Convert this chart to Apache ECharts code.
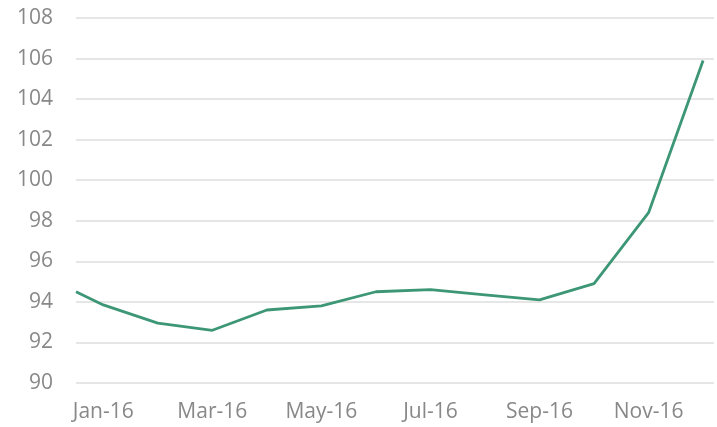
<!DOCTYPE html>
<html>
<head>
<meta charset="utf-8">
<script src="https://cdn.jsdelivr.net/npm/echarts@6/dist/echarts.min.js"></script>
<style>
html,body{margin:0;padding:0;background:#fff;}
#c{width:717px;height:427px;}
</style>
</head>
<body>
<div id="c"></div>
<script>
// x positions are in half-month steps: 0 = mid Dec-15, 1 = Jan-16, 3 = Feb-16, ... 23 = Dec-16
var positions = [0, 1, 3, 5, 7, 9, 11, 13, 15, 17, 19, 21, 23];
var months = ["Dec-15", "Jan-16", "Feb-16", "Mar-16", "Apr-16", "May-16", "Jun-16",
              "Jul-16", "Aug-16", "Sep-16", "Oct-16", "Nov-16", "Dec-16"];
var values = [94.5, 93.85, 92.95, 92.6, 93.6, 93.8, 94.5, 94.6, 94.35, 94.1, 94.9, 98.4, 105.9];
var tickLabels = ["Jan-16", "Mar-16", "May-16", "Jul-16", "Sep-16", "Nov-16"];
var yMin = 90, yMax = 108, yStep = 2;

var labelAt = {};
positions.forEach(function (p, i) {
  if (tickLabels.indexOf(months[i]) >= 0) labelAt[p] = months[i];
});
var data = positions.map(function (p, i) { return [p, values[i]]; });

var chart = echarts.init(document.getElementById('c'));
chart.setOption({
  animation: false,
  grid: { left: 76, right: 0, top: 18, bottom: 44 },
  xAxis: {
    type: 'value',
    min: 0, max: 23.4, interval: 1,
    axisLine: { show: false },
    axisTick: { show: false },
    splitLine: { show: false },
    axisLabel: {
      formatter: function (v) { return labelAt[v] || ''; },
      showMinLabel: true, showMaxLabel: true,
      color: '#888888',
      fontFamily: 'Open Sans',
      fontSize: 21,
      margin: 19
    }
  },
  yAxis: {
    type: 'value',
    min: yMin, max: yMax, interval: yStep,
    axisLine: { show: false },
    axisTick: { show: false },
    splitLine: { lineStyle: { color: '#dedede', width: 1.5 } },
    axisLabel: { color: '#888888', fontFamily: 'Open Sans', fontSize: 21, margin: 23 }
  },
  series: [{
    type: 'line',
    data: data,
    showSymbol: false,
    symbol: 'none',
    lineStyle: { color: '#3d9776', width: 2.8 }
  }]
});
</script>
</body>
</html>
